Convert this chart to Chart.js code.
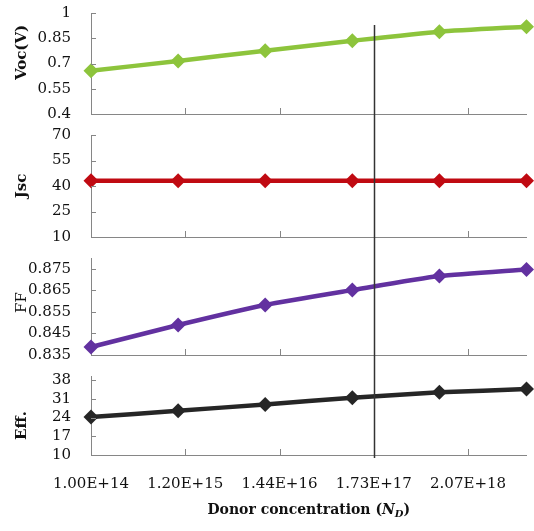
<!DOCTYPE html>
<html>
<head>
<meta charset="utf-8">
<title>Donor concentration</title>
<script src="https://cdn.jsdelivr.net/npm/chart.js@4.4.1/dist/chart.umd.min.js"></script>
<style>
body { margin: 0; background: #fff; }
#wrap { position: relative; width: 534px; height: 531px; }
canvas { position: absolute; left: 0; }
</style>
</head>
<body>
<div id="wrap">
  <canvas id="c1" width="534" height="125" style="top:0px"></canvas>
  <canvas id="c2" width="534" height="122" style="top:125px"></canvas>
  <canvas id="c3" width="534" height="118" style="top:247px"></canvas>
  <canvas id="c4" width="534" height="166" style="top:365px"></canvas>
</div>
<script>
// donor concentration of each simulated point
const concentrations = ['1.00E+14', '1.20E+15', '1.44E+16', '1.73E+17', '2.07E+18', '2.49E+19'];
// labels printed under the x axis
const axisLabels = ['1.00E+14', '1.20E+15', '1.44E+16', '1.73E+17', '2.07E+18'];
const markedLabel = '1.73E+17';

const voc = [0.657, 0.715, 0.776, 0.835, 0.889, 0.919];
const jsc = [43.1, 43.1, 43.1, 43.1, 43.1, 43.1];
const ff = [0.8387, 0.8489, 0.8582, 0.8651, 0.8716, 0.8747];
const eff = [24.2, 26.5, 28.9, 31.4, 33.4, 34.6];

const vocTicks = [0.4, 0.55, 0.7, 0.85, 1];
const jscTicks = [10, 25, 40, 55, 70];
const ffTicks = [0.835, 0.845, 0.855, 0.865, 0.875];
const effTicks = [10, 17, 24, 31, 38];

const tickFont = { family: 'DejaVu Serif', size: 15 };
const axisColor = '#868686';

const panels = [
  { id: 'c1', values: voc, ticks: vocTicks, min: 0.4, max: 1, color: '#8DC43C', title: 'Voc(V)', bold: true, dy: -11,
    top: 13, axisH: 11, lineFrom: 25, lineTo: 125 },
  { id: 'c2', values: jsc, ticks: jscTicks, min: 10, max: 70, color: '#C00A12', title: 'Jsc', bold: true, dy: 0,
    top: 10, axisH: 10, lineFrom: 0, lineTo: 122 },
  { id: 'c3', values: ff, ticks: ffTicks, min: 0.835, max: 0.88, color: '#6231A0', title: 'FF', bold: false, dy: -4,
    top: 11, axisH: 10, lineFrom: 0, lineTo: 118 },
  { id: 'c4', values: eff, ticks: effTicks, min: 10, max: 39.5, color: '#262626', title: 'Eff.', bold: true, dy: 10,
    top: 11, axisH: 76, lineFrom: 0, lineTo: 93, last: true }
];

const decor = {
  id: 'decor',
  afterDatasetsDraw(chart, args, o) {
    const ctx = chart.ctx;
    const a = chart.chartArea;
    const y = chart.scales.y;
    const xt = chart.scales.xt;
    ctx.save();

    // small inward tick marks
    ctx.strokeStyle = axisColor;
    ctx.lineWidth = 1;
    ctx.beginPath();
    y.ticks.forEach(t => {
      const py = Math.round(y.getPixelForValue(t.value)) + 0.5;
      ctx.moveTo(a.left, py);
      ctx.lineTo(a.left + 5, py);
    });
    xt.ticks.forEach(t => {
      if (t.value === 0) return;
      const px = Math.round(xt.getPixelForValue(t.value)) + 0.5;
      ctx.moveTo(px, a.bottom);
      ctx.lineTo(px, a.bottom - 6);
    });
    ctx.stroke();

    // vertical marker line
    const vx = Math.round(xt.getPixelForValue(axisLabels.indexOf(markedLabel))) + 0.5;
    ctx.strokeStyle = '#333';
    ctx.lineWidth = 1.5;
    ctx.beginPath();
    ctx.moveTo(vx, o.from);
    ctx.lineTo(vx, o.to);
    ctx.stroke();

    // y axis title
    ctx.fillStyle = '#111';
    ctx.font = (o.bold ? 'bold ' : '') + '15px "DejaVu Serif"';
    ctx.textAlign = 'center';
    ctx.textBaseline = 'middle';
    ctx.translate(22, (a.top + a.bottom) / 2 + o.dy);
    ctx.rotate(-Math.PI / 2);
    ctx.fillText(o.title, 0, 0);
    ctx.restore();

    // x axis title
    if (o.last) {
      ctx.save();
      ctx.fillStyle = '#111';
      ctx.textBaseline = 'middle';
      const big = 'bold 14px "DejaVu Serif"';
      const ital = 'italic bold 14px "DejaVu Serif"';
      const sub = 'italic bold 10px "DejaVu Serif"';
      const parts = [
        ['Donor concentration (', big, 0],
        ['N', ital, 0],
        ['D', sub, 4],
        [')', big, 0]
      ];
      let w = 0;
      parts.forEach(p => { ctx.font = p[1]; w += ctx.measureText(p[0]).width; });
      let x = (a.left + a.right) / 2 - w / 2;
      const ty = 145;
      parts.forEach(p => {
        ctx.font = p[1];
        ctx.fillText(p[0], x, ty + p[2]);
        x += ctx.measureText(p[0]).width;
      });
      ctx.restore();
    }
  }
};

panels.forEach(p => {
  new Chart(document.getElementById(p.id), {
    type: 'line',
    data: {
      datasets: [{
        data: p.values.map((v, i) => ({ x: i, y: v })),
        borderColor: p.color,
        backgroundColor: p.color,
        borderWidth: 4.5,
        pointStyle: 'rectRot',
        pointRadius: 7.5,
        pointBorderWidth: 0,
        tension: 0.2,
        clip: false,
        xAxisID: 'x',
        yAxisID: 'y'
      }]
    },
    options: {
      responsive: false,
      animation: false,
      layout: { padding: { top: p.top, right: 2, left: 0, bottom: 0 } },
      plugins: {
        legend: { display: false },
        tooltip: { enabled: false },
        decor: { from: p.lineFrom, to: p.lineTo, title: p.title, bold: p.bold, dy: p.dy, last: !!p.last }
      },
      scales: {
        x: { type: 'linear', min: 0, max: concentrations.length - 1, display: false },
        xt: {
          type: 'linear',
          position: 'bottom',
          min: 0,
          max: 4.62,
          afterBuildTicks: s => { s.ticks = axisLabels.map((_, i) => ({ value: i })); },
          afterFit: s => { s.height = p.axisH; s.paddingLeft = 0; s.paddingRight = 0; },
          grid: { display: false, drawTicks: false },
          border: { color: axisColor, width: 1 },
          ticks: {
            display: !!p.last,
            autoSkip: false,
            maxRotation: 0,
            padding: 20,
            color: '#111',
            font: tickFont,
            callback: v => axisLabels[v]
          }
        },
        y: {
          min: p.min,
          max: p.max,
          afterBuildTicks: s => { s.ticks = p.ticks.map(v => ({ value: v })); },
          afterFit: s => { s.width = 91; s.paddingTop = 0; s.paddingBottom = 0; },
          grid: { display: false, drawTicks: false },
          border: { color: axisColor, width: 1 },
          ticks: {
            autoSkip: false,
            padding: 20,
            color: '#111',
            font: tickFont,
            callback: v => String(v)
          }
        }
      }
    },
    plugins: [decor]
  });
});
</script>
</body>
</html>
